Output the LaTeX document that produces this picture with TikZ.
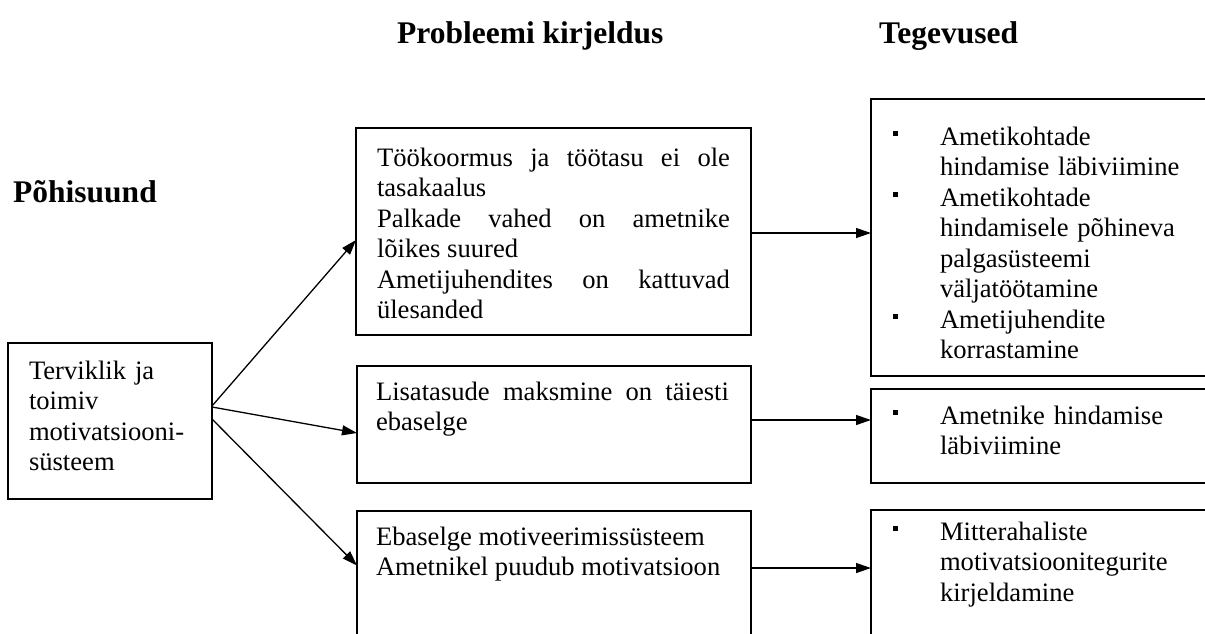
\documentclass[tikz,border=0pt]{standalone}
\usepackage{fontspec}
\setmainfont{Liberation Serif}
\usetikzlibrary{arrows.meta}
\setlength{\parindent}{0pt}
\tolerance=10000
\hyphenpenalty=10000
\newcommand{\bul}{\makebox[47pt][l]{\rule[9.5pt]{5pt}{5pt}}}
\newcommand{\ind}{\hspace*{47pt}}
\newcommand{\firstst}{\rule{0pt}{27pt}}
\begin{document}
\begin{tikzpicture}[x=1pt,y=-1pt,
  box/.style={draw, line width=1.1pt, inner sep=0pt, outer sep=0pt, anchor=north west},
  txt/.style={inner sep=0pt, outer sep=0pt, anchor=north west,
    font=\fontsize{26.6pt}{30.5pt}\selectfont},
  head/.style={inner sep=0pt, anchor=base west, font=\fontsize{31.5pt}{36pt}\selectfont\bfseries},
  arr/.style={line width=1.3pt, -{Triangle[length=15pt,width=10pt]}}]
\useasboundingbox (0,0) rectangle (1205,633);
\clip (0,0) rectangle (1205,633);

% headings
\node[head] (h1) at (13,202) {Põhisuund};
\node[head] (h2) at (397,43) {Probleemi kirjeldus};
\node[head] (h3) at (879,43) {Tegevused};

% boxes
\node[box, minimum width=204pt, minimum height=156pt] (L) at (8,343) {};
\node[box, minimum width=395pt, minimum height=207pt] (m1) at (356,128) {};
\node[box, minimum width=394pt, minimum height=117pt] (m2) at (357,366) {};
\node[box, minimum width=394pt, minimum height=150pt] (m3) at (357,511) {};
\node[box, minimum width=360pt, minimum height=277pt] (r1) at (871,99) {};
\node[box, minimum width=360pt, minimum height=94pt] (r2) at (871,389) {};
\node[box, minimum width=360pt, minimum height=150pt] (r3) at (871,510) {};

% texts
\node[txt, text width=180pt, align=left] (Lt) at (29,352)
  {\firstst Terviklik ja\\ toimiv\\ motivatsiooni-\\ süsteem};
\node[txt, text width=353pt, align=justify] (m1t) at (377,139)
  {\firstst Töökoormus ja töötasu ei ole\linebreak tasakaalus\par
   Palkade vahed on ametnike\linebreak lõikes suured\par
   Ametijuhendites on kattuvad\linebreak ülesanded};
\node[txt, text width=353pt, align=justify] (m2t) at (376,373)
  {\firstst Lisatasude maksmine on täiesti\linebreak ebaselge};
\node[txt, text width=353pt, align=justify] (m3t) at (376,518)
  {\firstst Ebaselge motiveerimissüsteem\par Ametnikel puudub motivatsioon};
\node[txt, text width=310pt, align=left] (r1t) at (893,118)
  {\firstst\bul Ametikohtade\\ \ind hindamise läbiviimine\\
   \bul Ametikohtade\\ \ind hindamisele põhineva\\ \ind palgasüsteemi\\
   \ind väljatöötamine\\ \bul Ametijuhendite\\ \ind korrastamine};
\node[txt, text width=310pt, align=left] (r2t) at (893,397)
  {\firstst\bul Ametnike hindamise\\ \ind läbiviimine};
\node[txt, text width=310pt, align=left] (r3t) at (893,513)
  {\firstst\bul Mitterahaliste\\ \ind motivatsioonitegurite\\ \ind kirjeldamine};

% connectors
\draw[arr] ([yshift=15pt]L.east) -- ([yshift=-8.5pt]m1.west);
\draw[arr] ([yshift=14pt]L.east) -- ([yshift=-8.5pt]m2.west);
\draw[arr] ([yshift=2pt]L.east) -- ([yshift=20.5pt]m3.west);
\coordinate (a1) at ([yshift=-1.5pt]m1.east);
\coordinate (a2) at ([yshift=4.5pt]m2.east);
\coordinate (a3) at ([yshift=18pt]m3.east);
\draw[arr] (a1) -- (a1 -| r1.west);
\draw[arr] (a2) -- (a2 -| r2.west);
\draw[arr] (a3) -- (a3 -| r3.west);
\end{tikzpicture}
\end{document}
